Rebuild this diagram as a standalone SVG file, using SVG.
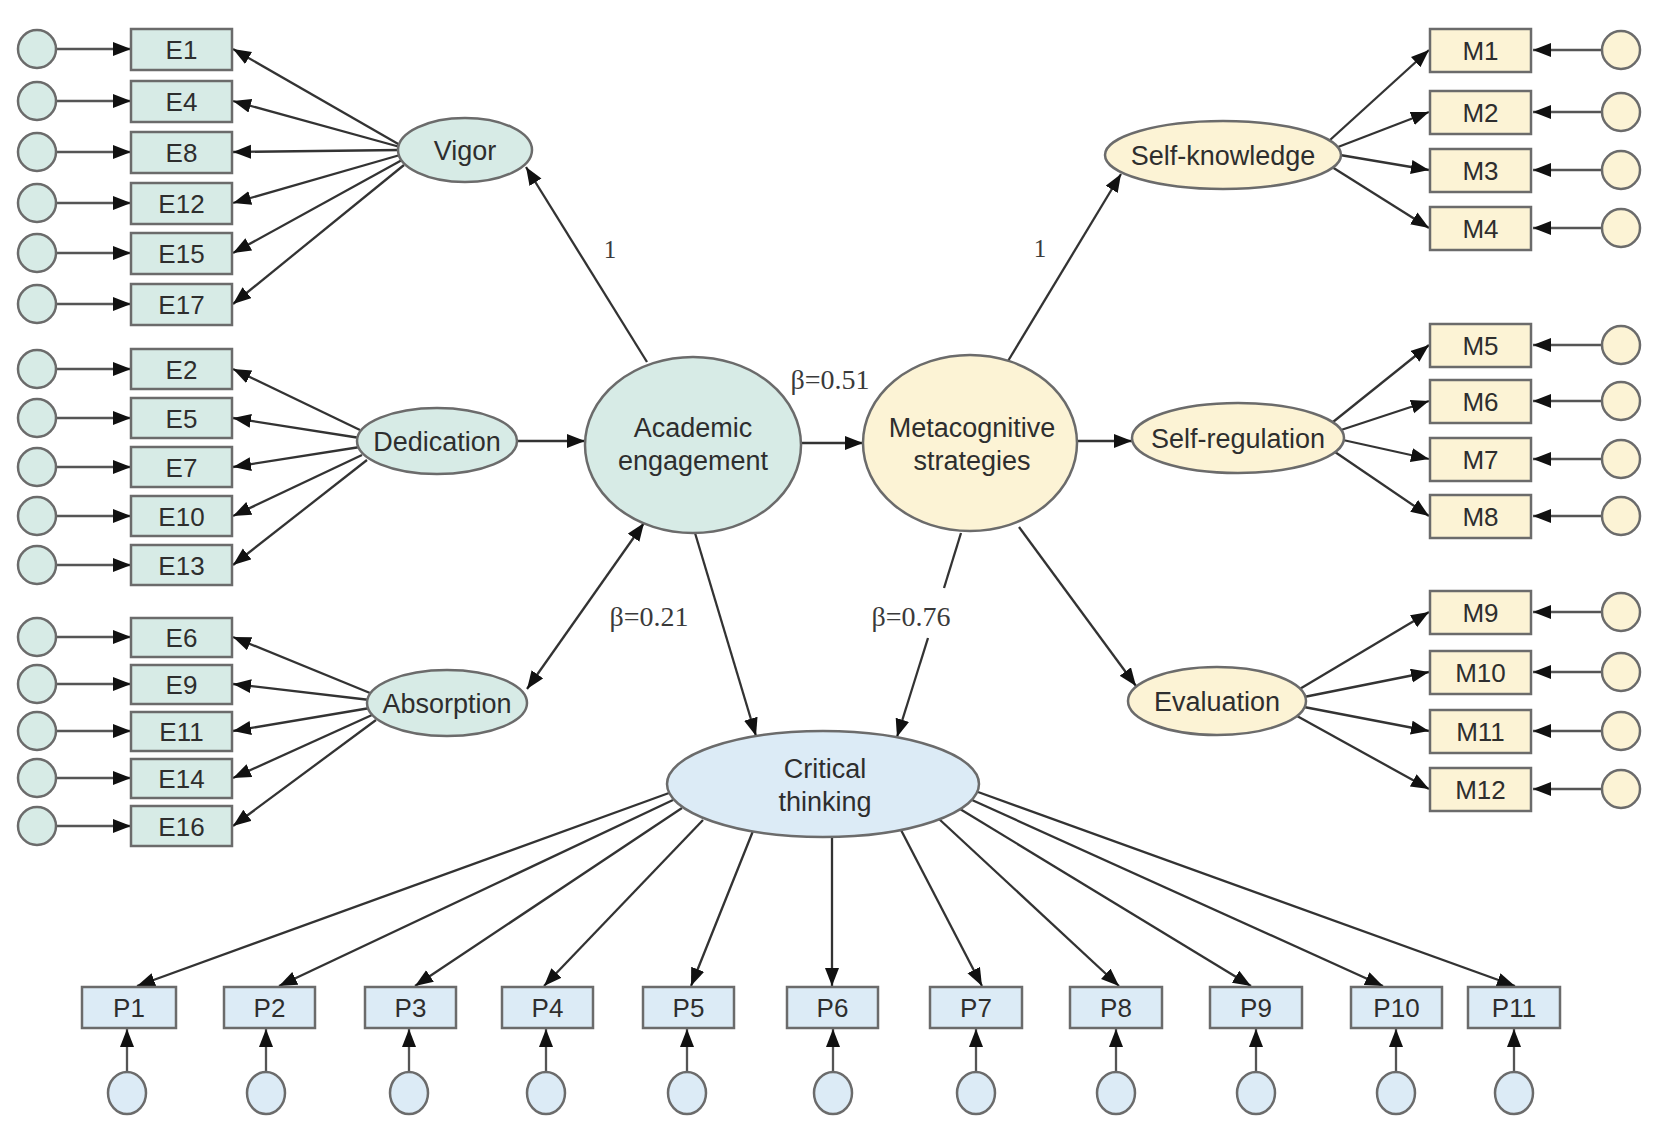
<svg xmlns="http://www.w3.org/2000/svg" width="1665" height="1148" viewBox="0 0 1665 1148">
<style>
.bg{fill:#ffffff}
.eg{fill:#d7ebe6;stroke:#6b6b6b;stroke-width:2.5}
.my{fill:#fcf3d5;stroke:#6b6b6b;stroke-width:2.5}
.pb{fill:#dcebf6;stroke:#6b6b6b;stroke-width:2.5}
.t{font-family:"Liberation Sans",Arial,sans-serif;font-size:26px;fill:#2e2e2e;text-anchor:middle;dominant-baseline:central}
.tl{font-family:"Liberation Sans",Arial,sans-serif;font-size:27px;fill:#2e2e2e;text-anchor:middle}
.s{font-family:"Liberation Serif","Times New Roman",serif;font-size:28px;fill:#3a3a3a;text-anchor:middle;dominant-baseline:central}
.c line{stroke:#333333;stroke-width:2.3;marker-end:url(#ah)}
.c .e line{stroke:#555555}
</style>
<defs>
<marker id="ah" markerUnits="userSpaceOnUse" markerWidth="19" markerHeight="15" refX="18" refY="7" orient="auto">
<path d="M0,0 L18,7 L0,14 z" fill="#111111"/>
</marker>
<marker id="ahs" markerUnits="userSpaceOnUse" markerWidth="19" markerHeight="15" refX="18" refY="7" orient="auto-start-reverse">
<path d="M0,0 L18,7 L0,14 z" fill="#111111"/>
</marker>
</defs>
<rect class="bg" x="0" y="0" width="1665" height="1148"/>

<g id="connectors" class="c">
<g class="e">
<line x1="56" y1="49" x2="131" y2="49"/>
<line x1="56" y1="101" x2="131" y2="101"/>
<line x1="56" y1="152" x2="131" y2="152"/>
<line x1="56" y1="203" x2="131" y2="203"/>
<line x1="56" y1="253" x2="131" y2="253"/>
<line x1="56" y1="304" x2="131" y2="304"/>
<line x1="56" y1="369" x2="131" y2="369"/>
<line x1="56" y1="418" x2="131" y2="418"/>
<line x1="56" y1="467" x2="131" y2="467"/>
<line x1="56" y1="516" x2="131" y2="516"/>
<line x1="56" y1="565" x2="131" y2="565"/>
<line x1="56" y1="637" x2="131" y2="637"/>
<line x1="56" y1="684" x2="131" y2="684"/>
<line x1="56" y1="731" x2="131" y2="731"/>
<line x1="56" y1="778" x2="131" y2="778"/>
<line x1="56" y1="826" x2="131" y2="826"/>
<line x1="1602" y1="50" x2="1533" y2="50"/>
<line x1="1602" y1="112" x2="1533" y2="112"/>
<line x1="1602" y1="170" x2="1533" y2="170"/>
<line x1="1602" y1="228" x2="1533" y2="228"/>
<line x1="1602" y1="345" x2="1533" y2="345"/>
<line x1="1602" y1="401" x2="1533" y2="401"/>
<line x1="1602" y1="459" x2="1533" y2="459"/>
<line x1="1602" y1="516" x2="1533" y2="516"/>
<line x1="1602" y1="612" x2="1533" y2="612"/>
<line x1="1602" y1="672" x2="1533" y2="672"/>
<line x1="1602" y1="731" x2="1533" y2="731"/>
<line x1="1602" y1="789" x2="1533" y2="789"/>
<line x1="127" y1="1072" x2="127" y2="1029"/>
<line x1="266" y1="1072" x2="266" y2="1029"/>
<line x1="409" y1="1072" x2="409" y2="1029"/>
<line x1="546" y1="1072" x2="546" y2="1029"/>
<line x1="687" y1="1072" x2="687" y2="1029"/>
<line x1="833" y1="1072" x2="833" y2="1029"/>
<line x1="976" y1="1072" x2="976" y2="1029"/>
<line x1="1116" y1="1072" x2="1116" y2="1029"/>
<line x1="1256" y1="1072" x2="1256" y2="1029"/>
<line x1="1396" y1="1072" x2="1396" y2="1029"/>
<line x1="1514" y1="1072" x2="1514" y2="1029"/>
</g>
<line x1="400" y1="145" x2="233" y2="49"/>
<line x1="400" y1="147" x2="233" y2="101"/>
<line x1="400" y1="150" x2="233" y2="152"/>
<line x1="400" y1="155" x2="233" y2="203"/>
<line x1="402" y1="160" x2="233" y2="253"/>
<line x1="404" y1="165" x2="233" y2="304"/>
<line x1="360" y1="430" x2="233" y2="369"/>
<line x1="360" y1="438" x2="233" y2="418"/>
<line x1="360" y1="447" x2="233" y2="467"/>
<line x1="362" y1="455" x2="233" y2="516"/>
<line x1="367" y1="460" x2="233" y2="565"/>
<line x1="370" y1="693" x2="233" y2="637"/>
<line x1="370" y1="700" x2="233" y2="684"/>
<line x1="370" y1="708" x2="233" y2="731"/>
<line x1="372" y1="715" x2="233" y2="778"/>
<line x1="376" y1="720" x2="233" y2="826"/>
<line x1="1330" y1="140" x2="1429" y2="50"/>
<line x1="1338" y1="147" x2="1429" y2="112"/>
<line x1="1340" y1="155" x2="1429" y2="170"/>
<line x1="1332" y1="167" x2="1429" y2="228"/>
<line x1="1333" y1="422" x2="1429" y2="345"/>
<line x1="1341" y1="430" x2="1429" y2="401"/>
<line x1="1343" y1="440" x2="1429" y2="459"/>
<line x1="1335" y1="452" x2="1429" y2="516"/>
<line x1="1298" y1="690" x2="1429" y2="612"/>
<line x1="1304" y1="697" x2="1429" y2="672"/>
<line x1="1304" y1="707" x2="1429" y2="731"/>
<line x1="1297" y1="716" x2="1429" y2="789"/>
<line x1="647" y1="362" x2="526" y2="167"/>
<line x1="517" y1="441" x2="585" y2="441"/>
<line x1="801" y1="443" x2="863" y2="443"/>
<line x1="527" y1="689" x2="644" y2="523" marker-start="url(#ahs)"/>
<line x1="695" y1="533" x2="756" y2="736"/>
<line x1="961" y1="533" x2="944" y2="588" style="marker-end:none"/>
<line x1="928" y1="638" x2="897" y2="737"/>
<line x1="1008" y1="361" x2="1121" y2="174"/>
<line x1="1077" y1="441" x2="1132" y2="441"/>
<line x1="1019" y1="527" x2="1136" y2="686"/>
<line x1="669" y1="793" x2="137" y2="986"/>
<line x1="673" y1="800" x2="279" y2="986"/>
<line x1="682" y1="808" x2="415" y2="986"/>
<line x1="703" y1="820" x2="544" y2="986"/>
<line x1="753" y1="831" x2="691" y2="986"/>
<line x1="832" y1="837" x2="832" y2="986"/>
<line x1="901" y1="830" x2="982" y2="986"/>
<line x1="939" y1="819" x2="1119" y2="986"/>
<line x1="960" y1="809" x2="1251" y2="986"/>
<line x1="972" y1="800" x2="1383" y2="986"/>
<line x1="978" y1="792" x2="1515" y2="986"/>
</g>

<g id="path-labels">
<text class="s" x="830" y="379">β=0.51</text>
<text class="s" x="649" y="616">β=0.21</text>
<text class="s" x="911" y="616">β=0.76</text>
<text class="s" x="610" y="249" style="font-size:25px">1</text>
<text class="s" x="1040" y="248" style="font-size:25px">1</text>
</g>

<g id="E1"><circle class="eg" cx="37" cy="49" r="19"/><rect class="eg" x="131" y="29" width="101" height="41"/><text class="t" x="181.5" y="50">E1</text></g>
<g id="E4"><circle class="eg" cx="37" cy="101" r="19"/><rect class="eg" x="131" y="81" width="101" height="41"/><text class="t" x="181.5" y="102">E4</text></g>
<g id="E8"><circle class="eg" cx="37" cy="152" r="19"/><rect class="eg" x="131" y="132" width="101" height="41"/><text class="t" x="181.5" y="153">E8</text></g>
<g id="E12"><circle class="eg" cx="37" cy="203" r="19"/><rect class="eg" x="131" y="183" width="101" height="41"/><text class="t" x="181.5" y="204">E12</text></g>
<g id="E15"><circle class="eg" cx="37" cy="253" r="19"/><rect class="eg" x="131" y="233" width="101" height="41"/><text class="t" x="181.5" y="254">E15</text></g>
<g id="E17"><circle class="eg" cx="37" cy="304" r="19"/><rect class="eg" x="131" y="284" width="101" height="41"/><text class="t" x="181.5" y="305">E17</text></g>
<g id="E2"><circle class="eg" cx="37" cy="369" r="19"/><rect class="eg" x="131" y="349" width="101" height="40"/><text class="t" x="181.5" y="370">E2</text></g>
<g id="E5"><circle class="eg" cx="37" cy="418" r="19"/><rect class="eg" x="131" y="398" width="101" height="40"/><text class="t" x="181.5" y="419">E5</text></g>
<g id="E7"><circle class="eg" cx="37" cy="467" r="19"/><rect class="eg" x="131" y="447" width="101" height="40"/><text class="t" x="181.5" y="468">E7</text></g>
<g id="E10"><circle class="eg" cx="37" cy="516" r="19"/><rect class="eg" x="131" y="496" width="101" height="40"/><text class="t" x="181.5" y="517">E10</text></g>
<g id="E13"><circle class="eg" cx="37" cy="565" r="19"/><rect class="eg" x="131" y="545" width="101" height="40"/><text class="t" x="181.5" y="566">E13</text></g>
<g id="E6"><circle class="eg" cx="37" cy="637" r="19"/><rect class="eg" x="131" y="618" width="101" height="39"/><text class="t" x="181.5" y="638">E6</text></g>
<g id="E9"><circle class="eg" cx="37" cy="684" r="19"/><rect class="eg" x="131" y="665" width="101" height="39"/><text class="t" x="181.5" y="685">E9</text></g>
<g id="E11"><circle class="eg" cx="37" cy="731" r="19"/><rect class="eg" x="131" y="712" width="101" height="39"/><text class="t" x="181.5" y="732">E11</text></g>
<g id="E14"><circle class="eg" cx="37" cy="778" r="19"/><rect class="eg" x="131" y="759" width="101" height="39"/><text class="t" x="181.5" y="779">E14</text></g>
<g id="E16"><circle class="eg" cx="37" cy="826" r="19"/><rect class="eg" x="131" y="806" width="101" height="40"/><text class="t" x="181.5" y="827">E16</text></g>

<g id="Vigor"><ellipse class="eg" cx="465" cy="150" rx="67" ry="32"/><text class="t" x="465" y="151" style="font-size:27px">Vigor</text></g>
<g id="Dedication"><ellipse class="eg" cx="437" cy="441" rx="80" ry="33"/><text class="t" x="437" y="442" style="font-size:27px">Dedication</text></g>
<g id="Absorption"><ellipse class="eg" cx="447" cy="703" rx="80" ry="33"/><text class="t" x="447" y="704" style="font-size:27px">Absorption</text></g>
<g id="AcademicEngagement"><ellipse class="eg" cx="693" cy="445" rx="108" ry="88"/><text class="tl" x="693" y="437">Academic</text><text class="tl" x="693" y="470">engagement</text></g>

<g id="MetacognitiveStrategies"><ellipse class="my" cx="970" cy="443" rx="107" ry="88"/><text class="tl" x="972" y="437">Metacognitive</text><text class="tl" x="972" y="470">strategies</text></g>
<g id="SelfKnowledge"><ellipse class="my" cx="1223" cy="155" rx="118" ry="34"/><text class="t" x="1223" y="156" style="font-size:27px">Self-knowledge</text></g>
<g id="SelfRegulation"><ellipse class="my" cx="1238" cy="438" rx="106" ry="35"/><text class="t" x="1238" y="439" style="font-size:27px">Self-regulation</text></g>
<g id="Evaluation"><ellipse class="my" cx="1217" cy="701" rx="89" ry="34"/><text class="t" x="1217" y="702" style="font-size:27px">Evaluation</text></g>

<g id="M1"><rect class="my" x="1430" y="29" width="101" height="43"/><circle class="my" cx="1621" cy="50" r="19"/><text class="t" x="1480.5" y="51">M1</text></g>
<g id="M2"><rect class="my" x="1430" y="91" width="101" height="43"/><circle class="my" cx="1621" cy="112" r="19"/><text class="t" x="1480.5" y="113">M2</text></g>
<g id="M3"><rect class="my" x="1430" y="149" width="101" height="43"/><circle class="my" cx="1621" cy="170" r="19"/><text class="t" x="1480.5" y="171">M3</text></g>
<g id="M4"><rect class="my" x="1430" y="207" width="101" height="43"/><circle class="my" cx="1621" cy="228" r="19"/><text class="t" x="1480.5" y="229">M4</text></g>
<g id="M5"><rect class="my" x="1430" y="324" width="101" height="43"/><circle class="my" cx="1621" cy="345" r="19"/><text class="t" x="1480.5" y="346">M5</text></g>
<g id="M6"><rect class="my" x="1430" y="380" width="101" height="43"/><circle class="my" cx="1621" cy="401" r="19"/><text class="t" x="1480.5" y="402">M6</text></g>
<g id="M7"><rect class="my" x="1430" y="438" width="101" height="43"/><circle class="my" cx="1621" cy="459" r="19"/><text class="t" x="1480.5" y="460">M7</text></g>
<g id="M8"><rect class="my" x="1430" y="495" width="101" height="43"/><circle class="my" cx="1621" cy="516" r="19"/><text class="t" x="1480.5" y="517">M8</text></g>
<g id="M9"><rect class="my" x="1430" y="591" width="101" height="43"/><circle class="my" cx="1621" cy="612" r="19"/><text class="t" x="1480.5" y="613">M9</text></g>
<g id="M10"><rect class="my" x="1430" y="651" width="101" height="43"/><circle class="my" cx="1621" cy="672" r="19"/><text class="t" x="1480.5" y="673">M10</text></g>
<g id="M11"><rect class="my" x="1430" y="710" width="101" height="43"/><circle class="my" cx="1621" cy="731" r="19"/><text class="t" x="1480.5" y="732">M11</text></g>
<g id="M12"><rect class="my" x="1430" y="768" width="101" height="43"/><circle class="my" cx="1621" cy="789" r="19"/><text class="t" x="1480.5" y="790">M12</text></g>

<g id="CriticalThinking"><ellipse class="pb" cx="823" cy="784" rx="156" ry="53"/><text class="tl" x="825" y="778">Critical</text><text class="tl" x="825" y="811">thinking</text></g>

<g id="P1"><rect class="pb" x="82" y="987" width="94" height="41"/><ellipse class="pb" cx="127" cy="1093" rx="19" ry="21"/><text class="t" x="129" y="1008">P1</text></g>
<g id="P2"><rect class="pb" x="224" y="987" width="91" height="41"/><ellipse class="pb" cx="266" cy="1093" rx="19" ry="21"/><text class="t" x="269.5" y="1008">P2</text></g>
<g id="P3"><rect class="pb" x="365" y="987" width="91" height="41"/><ellipse class="pb" cx="409" cy="1093" rx="19" ry="21"/><text class="t" x="410.5" y="1008">P3</text></g>
<g id="P4"><rect class="pb" x="502" y="987" width="91" height="41"/><ellipse class="pb" cx="546" cy="1093" rx="19" ry="21"/><text class="t" x="547.5" y="1008">P4</text></g>
<g id="P5"><rect class="pb" x="643" y="987" width="91" height="41"/><ellipse class="pb" cx="687" cy="1093" rx="19" ry="21"/><text class="t" x="688.5" y="1008">P5</text></g>
<g id="P6"><rect class="pb" x="787" y="987" width="91" height="41"/><ellipse class="pb" cx="833" cy="1093" rx="19" ry="21"/><text class="t" x="832.5" y="1008">P6</text></g>
<g id="P7"><rect class="pb" x="930" y="987" width="92" height="41"/><ellipse class="pb" cx="976" cy="1093" rx="19" ry="21"/><text class="t" x="976" y="1008">P7</text></g>
<g id="P8"><rect class="pb" x="1070" y="987" width="92" height="41"/><ellipse class="pb" cx="1116" cy="1093" rx="19" ry="21"/><text class="t" x="1116" y="1008">P8</text></g>
<g id="P9"><rect class="pb" x="1210" y="987" width="92" height="41"/><ellipse class="pb" cx="1256" cy="1093" rx="19" ry="21"/><text class="t" x="1256" y="1008">P9</text></g>
<g id="P10"><rect class="pb" x="1351" y="987" width="91" height="41"/><ellipse class="pb" cx="1396" cy="1093" rx="19" ry="21"/><text class="t" x="1396.5" y="1008">P10</text></g>
<g id="P11"><rect class="pb" x="1468" y="987" width="92" height="41"/><ellipse class="pb" cx="1514" cy="1093" rx="19" ry="21"/><text class="t" x="1514" y="1008">P11</text></g>
</svg>
